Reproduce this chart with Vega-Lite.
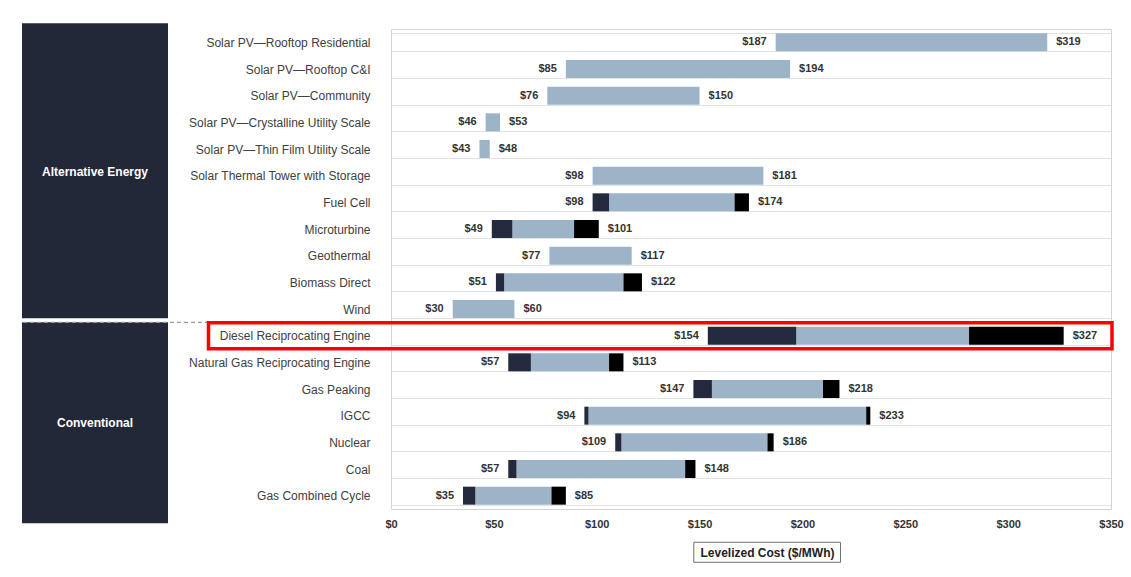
{
  "$schema": "https://vega.github.io/schema/vega-lite/v6.json",
  "padding": {"left": 21, "top": 22, "right": 5, "bottom": 5},
  "background": "white",
  "config": {"font": "Liberation Sans", "view": {"stroke": "#d4d4d4"}},
  "data": {"values": [
    {"tech": "Solar PV—Rooftop Residential", "group": "Alternative Energy", "low": 187, "mid_start": 187, "mid_end": 319, "high": 319, "highlight": false},
    {"tech": "Solar PV—Rooftop C&I", "group": "Alternative Energy", "low": 85, "mid_start": 85, "mid_end": 194, "high": 194, "highlight": false},
    {"tech": "Solar PV—Community", "group": "Alternative Energy", "low": 76, "mid_start": 76, "mid_end": 150, "high": 150, "highlight": false},
    {"tech": "Solar PV—Crystalline Utility Scale", "group": "Alternative Energy", "low": 46, "mid_start": 46, "mid_end": 53, "high": 53, "highlight": false},
    {"tech": "Solar PV—Thin Film Utility Scale", "group": "Alternative Energy", "low": 43, "mid_start": 43, "mid_end": 48, "high": 48, "highlight": false},
    {"tech": "Solar Thermal Tower with Storage", "group": "Alternative Energy", "low": 98, "mid_start": 98, "mid_end": 181, "high": 181, "highlight": false},
    {"tech": "Fuel Cell", "group": "Alternative Energy", "low": 98, "mid_start": 106, "mid_end": 167, "high": 174, "highlight": false},
    {"tech": "Microturbine", "group": "Alternative Energy", "low": 49, "mid_start": 59, "mid_end": 89, "high": 101, "highlight": false},
    {"tech": "Geothermal", "group": "Alternative Energy", "low": 77, "mid_start": 77, "mid_end": 117, "high": 117, "highlight": false},
    {"tech": "Biomass Direct", "group": "Alternative Energy", "low": 51, "mid_start": 55, "mid_end": 113, "high": 122, "highlight": false},
    {"tech": "Wind", "group": "Alternative Energy", "low": 30, "mid_start": 30, "mid_end": 60, "high": 60, "highlight": false},
    {"tech": "Diesel Reciprocating Engine", "group": "Conventional", "low": 154, "mid_start": 197, "mid_end": 281, "high": 327, "highlight": true},
    {"tech": "Natural Gas Reciprocating Engine", "group": "Conventional", "low": 57, "mid_start": 68, "mid_end": 106, "high": 113, "highlight": false},
    {"tech": "Gas Peaking", "group": "Conventional", "low": 147, "mid_start": 156, "mid_end": 210, "high": 218, "highlight": false},
    {"tech": "IGCC", "group": "Conventional", "low": 94, "mid_start": 96, "mid_end": 231, "high": 233, "highlight": false},
    {"tech": "Nuclear", "group": "Conventional", "low": 109, "mid_start": 112, "mid_end": 183, "high": 186, "highlight": false},
    {"tech": "Coal", "group": "Conventional", "low": 57, "mid_start": 61, "mid_end": 143, "high": 148, "highlight": false},
    {"tech": "Gas Combined Cycle", "group": "Conventional", "low": 35, "mid_start": 41, "mid_end": 78, "high": 85, "highlight": false}
  ]},
  "bounds": "flush",
  "spacing": 223,
  "resolve": {"scale": {"x": "independent", "y": "independent"}},
  "hconcat": [
    {
      "width": 146,
      "height": 480,
      "view": {"stroke": null},
      "transform": [
        {"window": [{"op": "row_number", "as": "idx"}]},
        {"aggregate": [
          {"op": "min", "field": "idx", "as": "first"},
          {"op": "max", "field": "idx", "as": "last"},
          {"op": "median", "field": "idx", "as": "mid"}
        ], "groupby": ["group"]}
      ],
      "layer": [
        {
          "transform": [{"filter": "datum.group === 'Alternative Energy'"}],
          "mark": {"type": "rect", "color": "#232839", "yOffset": -4, "y2Offset": -32.4},
          "encoding": {
            "y": {"field": "last", "type": "quantitative", "scale": {"reverse": true, "nice": false, "zero": true}, "axis": null},
            "y2": {"field": "first"}
          }
        },
        {
          "transform": [{"filter": "datum.group === 'Conventional'"}],
          "mark": {"type": "rect", "color": "#232839", "yOffset": 14.3, "y2Offset": -26.7},
          "encoding": {
            "y": {"field": "last", "type": "quantitative"},
            "y2": {"field": "first"}
          }
        },
        {
          "transform": [{"filter": "datum.group === 'Alternative Energy'"}],
          "mark": {"type": "text", "color": "white", "fontWeight": "bold", "fontSize": 12, "baseline": "middle", "yOffset": -17.2},
          "encoding": {
            "y": {"field": "mid", "type": "quantitative"},
            "text": {"field": "group"}
          }
        },
        {
          "transform": [{"filter": "datum.group === 'Conventional'"}],
          "mark": {"type": "text", "color": "white", "fontWeight": "bold", "fontSize": 12, "baseline": "middle", "yOffset": -6.2},
          "encoding": {
            "y": {"field": "mid", "type": "quantitative"},
            "text": {"field": "group"}
          }
        },
        {
          "transform": [{"filter": "datum.group === 'Alternative Energy'"}],
          "mark": {"type": "rule", "color": "#9a9a9a", "strokeDash": [4, 3], "strokeWidth": 1.2, "xOffset": 146, "x2Offset": 39},
          "encoding": {
            "y": {"field": "last", "type": "quantitative"}
          }
        }
      ]
    },
    {
      "width": 720,
      "height": 480,
      "layer": [
        {
          "mark": {"type": "bar", "color": "#9db4c8"},
          "encoding": {
            "y": {
              "field": "tech", "type": "nominal", "sort": null,
              "scale": {"paddingInner": 0.325, "paddingOuter": 0.1625},
              "axis": {
                "title": null, "domain": false, "ticks": false, "grid": true, "tickBand": "extent",
                "gridColor": "#e2e2e2", "gridWidth": 1,
                "labelFontSize": 12, "labelColor": "#404040", "labelPadding": 21, "labelLimit": 300
              }
            },
            "x": {
              "field": "mid_start", "type": "quantitative",
              "scale": {"domain": [0, 350], "nice": false},
              "axis": {
                "values": [0, 50, 100, 150, 200, 250, 300, 350], "format": "$,.0f",
                "domain": false, "ticks": false, "grid": false, "labelFlush": false,
                "labelFontSize": 11, "labelFontWeight": "bold", "labelColor": "#333333", "labelPadding": 9,
                "title": "Levelized Cost ($/MWh)", "titleFontSize": 12, "titleFontWeight": "bold", "titleColor": "#222222",
                "titleX": 376, "titleY": 43.3, "titleBaseline": "middle", "titleAlign": "center"
              }
            },
            "x2": {"field": "mid_end"}
          }
        },
        {
          "mark": {"type": "bar", "color": "#242a3d"},
          "encoding": {
            "y": {"field": "tech", "type": "nominal", "sort": null},
            "x": {"field": "low", "type": "quantitative"},
            "x2": {"field": "mid_start"}
          }
        },
        {
          "mark": {"type": "bar", "color": "#000000"},
          "encoding": {
            "y": {"field": "tech", "type": "nominal", "sort": null},
            "x": {"field": "mid_end", "type": "quantitative"},
            "x2": {"field": "high"}
          }
        },
        {
          "mark": {"type": "text", "align": "right", "baseline": "middle", "dx": -9, "fontWeight": "bold", "fontSize": 11, "color": "#333333"},
          "encoding": {
            "y": {"field": "tech", "type": "nominal", "sort": null},
            "x": {"field": "low", "type": "quantitative"},
            "text": {"field": "low", "type": "quantitative", "format": "$,.0f"}
          }
        },
        {
          "mark": {"type": "text", "align": "left", "baseline": "middle", "dx": 9, "fontWeight": "bold", "fontSize": 11, "color": "#333333"},
          "encoding": {
            "y": {"field": "tech", "type": "nominal", "sort": null},
            "x": {"field": "high", "type": "quantitative"},
            "text": {"field": "high", "type": "quantitative", "format": "$,.0f"}
          }
        },
        {
          "mark": {"type": "bar", "filled": false, "stroke": "#ff0000", "strokeWidth": 3.5, "height": 26, "xOffset": -182.5, "x2Offset": 1},
          "encoding": {
            "y": {"field": "tech", "type": "nominal", "sort": null},
            "x": {"datum": 0, "type": "quantitative"},
            "x2": {"datum": 350},
            "strokeOpacity": {"condition": {"test": "datum.highlight", "value": 1}, "value": 0}
          }
        },
        {
          "transform": [{"filter": "datum.tech === 'Gas Combined Cycle'"}],
          "mark": {"type": "bar", "filled": false, "stroke": "#6f6f6f", "strokeWidth": 1, "height": 20, "yOffset": 56.6},
          "encoding": {
            "y": {"field": "tech", "type": "nominal", "sort": null},
            "x": {"datum": 147.2, "type": "quantitative"},
            "x2": {"datum": 218.5}
          }
        }
      ]
    }
  ]
}
